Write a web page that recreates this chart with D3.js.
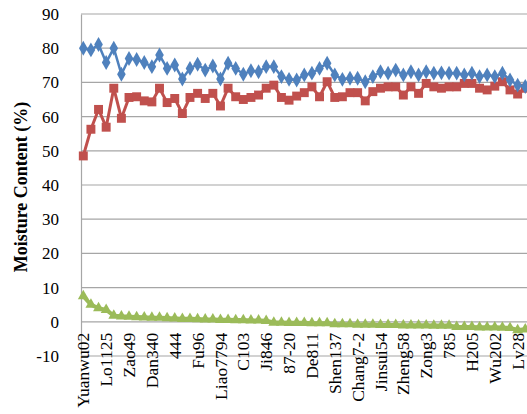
<!DOCTYPE html>
<html>
<head>
<meta charset="utf-8">
<script src="https://cdn.jsdelivr.net/npm/d3@7"></script>
<style>
  html, body { margin: 0; padding: 0; background: #fff; overflow: hidden; }
  svg { display: block; }
</style>
</head>
<body>
<svg id="chart" width="527" height="414"></svg>
<script>
// ---- Data ----
const tickLabels = ["Yuanwu02","Lo1125","Zao49","Dan340","444","Fu96","Liao7794","C103","Ji846","87-20",
  "De811","Shen137","Chang7-2","Jinsui54","Zheng58","Zong3","785","H205","Wu202","Lv28"];
const labelEvery = 3;

const blueValues = [80.0,79.5,81.1,75.8,80.0,72.4,77.0,76.7,75.8,74.6,
  78.0,74.1,75.1,71.0,74.1,75.3,73.6,74.8,71.0,75.6,
  74.1,72.4,73.4,73.1,74.6,74.6,71.7,70.9,70.7,72.2,
  72.7,74.1,75.6,72.2,70.9,71.2,71.2,70.2,71.7,73.1,
  72.7,73.6,72.2,73.1,72.2,73.1,72.7,72.8,72.7,72.7,
  72.2,72.7,71.7,72.2,71.7,72.7,70.7,69.2,68.8];

const redValues = [48.5,56.3,62.1,56.9,68.3,59.5,65.6,65.8,64.6,64.3,
  68.3,64.1,65.3,60.9,65.6,66.8,65.3,66.8,63.1,68.3,
  65.8,65.0,65.6,66.3,68.3,69.2,65.6,64.8,66.0,67.0,
  68.7,65.8,70.2,65.6,65.8,67.0,67.0,64.6,67.3,68.3,
  68.7,68.7,66.3,68.7,66.8,69.7,68.7,68.3,68.7,68.7,
  69.7,69.7,68.3,67.8,68.9,70.2,67.8,66.6,68.3];

const greenValues = [7.5,5.0,4.0,3.5,1.8,1.6,1.5,1.4,1.3,1.2,
  1.2,1.1,1.0,0.9,0.9,0.8,0.7,0.7,0.6,0.6,
  0.5,0.5,0.4,0.4,0.3,-0.2,-0.2,-0.3,-0.3,-0.3,
  -0.4,-0.4,-0.4,-0.7,-0.7,-0.7,-0.8,-0.8,-0.8,-0.9,
  -0.9,-0.9,-1.0,-1.0,-1.0,-1.0,-1.1,-1.1,-1.1,-1.5,
  -1.5,-1.5,-1.6,-1.6,-1.6,-1.7,-1.8,-2.4,-2.2];

const yTicks = [-10,0,10,20,30,40,50,60,70,80,90];
const yTitle = "Moisture Content (%)";

// ---- Layout ----
const svg = d3.select("#chart");
const plotLeft = 81, plotRight = 560, plotTop = 14, plotBottom = 356;
const n = blueValues.length;
const idx = d3.range(n);

const x = d3.scaleLinear().domain([0, n - 1]).range([83.3, 83.3 + 7.62 * (n - 1)]);
const y = d3.scaleLinear().domain([-10, 90]).range([plotBottom, plotTop]);

const gridColor = "#a6a6a6";
const serif = "'Liberation Serif', 'Times New Roman', serif";

// gridlines
svg.append("g")
  .selectAll("line")
  .data(yTicks)
  .join("line")
  .attr("x1", plotLeft).attr("x2", plotRight)
  .attr("y1", d => y(d)).attr("y2", d => y(d))
  .attr("stroke", gridColor).attr("stroke-width", 1.2);

// left axis
const yAxis = d3.axisLeft(y).tickValues(yTicks).tickSize(0).tickPadding(22)
  .tickFormat(d => String(d));
const gy = svg.append("g").attr("transform", `translate(${plotLeft},0)`).call(yAxis);
gy.select(".domain").attr("stroke", gridColor).attr("stroke-width", 1.2);
gy.selectAll("text")
  .attr("font-family", serif)
  .attr("font-size", 17).attr("fill", "#000");

// y title
svg.append("text")
  .attr("transform", `translate(21,187) rotate(-90)`)
  .attr("text-anchor", "middle")
  .attr("dy", "0.35em")
  .attr("font-family", serif)
  .attr("font-weight", "bold")
  .attr("font-size", 18)
  .text(yTitle);

// category axis at 0
const tickIdx = tickLabels.map((_, k) => k * labelEvery);
const xAxis = d3.axisBottom(x).tickValues(tickIdx)
  .tickFormat(d => tickLabels[d / labelEvery]).tickSize(0).tickPadding(0);
const gx = svg.append("g").attr("transform", `translate(0,${y(0)})`).call(xAxis);
gx.select(".domain").remove();
gx.selectAll("text")
  .attr("font-family", serif)
  .attr("font-size", 17.5).attr("fill", "#000")
  .attr("text-anchor", "end")
  .attr("transform", "rotate(-90)")
  .attr("x", -11).attr("y", 0).attr("dy", "0.35em");
gx.selectAll(".tick").each(function(d) {
  d3.select(this).attr("transform", `translate(${x(d)},0)`);
});

// series
const line = vals => d3.line().x(i => x(i)).y(i => y(vals[i]))(idx);

const series = [
  { vals: greenValues, color: "#9BBB59", shape: d3.symbolTriangle, size: 52, width: 4 },
  { vals: redValues, color: "#C0504D", shape: d3.symbolSquare, size: 80, width: 3 },
  { vals: blueValues, color: "#4F81BD", shape: d3.symbolDiamond, size: 64, width: 2.5 }
];

series.forEach(s => {
  svg.append("path").attr("d", line(s.vals))
    .attr("fill", "none").attr("stroke", s.color)
    .attr("stroke-width", s.width).attr("stroke-linejoin", "round");
  svg.append("g").selectAll("path")
    .data(idx).join("path")
    .attr("transform", i => `translate(${x(i)},${y(s.vals[i])})`)
    .attr("d", d3.symbol().type(s.shape).size(s.size))
    .attr("fill", s.color);
});
</script>
</body>
</html>
